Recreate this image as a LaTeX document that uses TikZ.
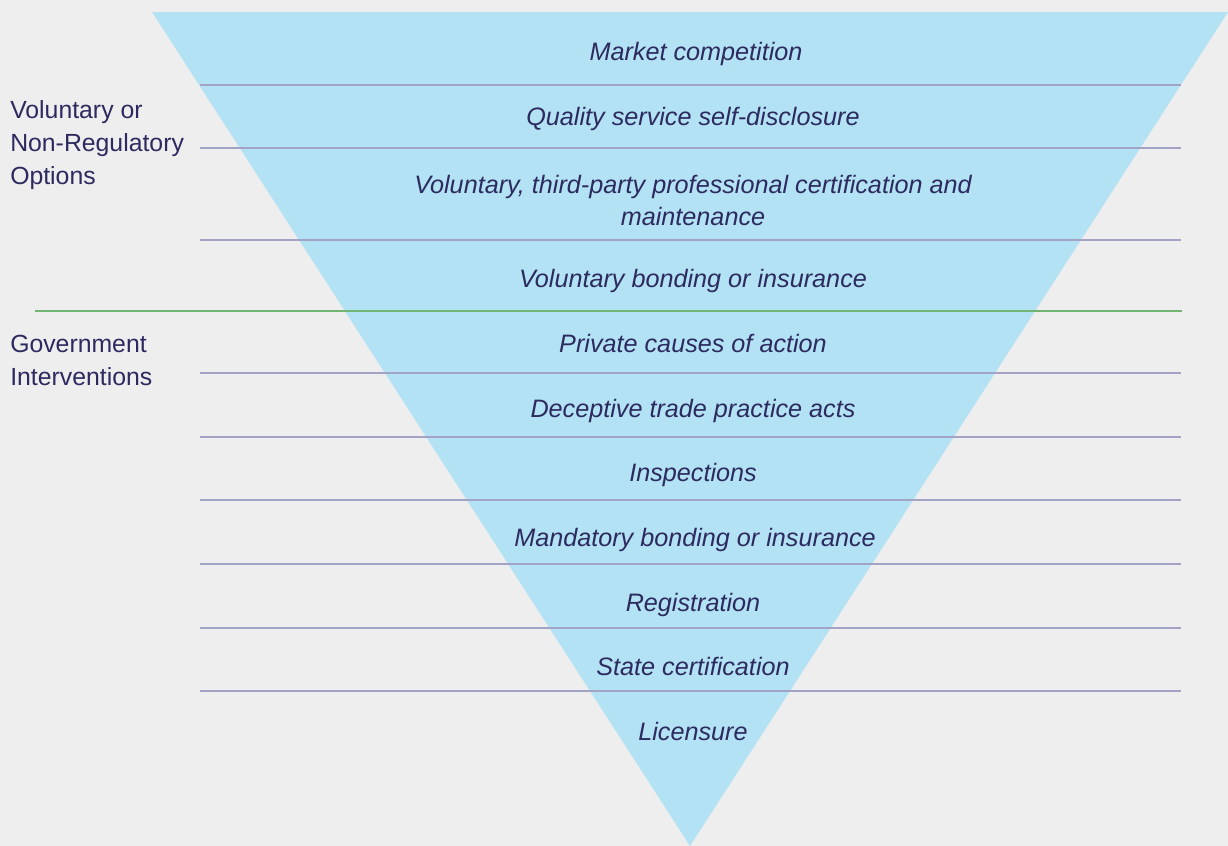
\documentclass[tikz,border=0pt]{standalone}
\usepackage{fontspec}
\setmainfont{Liberation Sans}
\definecolor{paper}{HTML}{EEEEEF}
\definecolor{funnel}{HTML}{B3E2F4}
\definecolor{ink}{HTML}{2C2A5F}
\definecolor{rule}{HTML}{A3A3C6}
\definecolor{divide}{HTML}{72B472}
\begin{document}
\begin{tikzpicture}[x=0.75pt,y=-0.75pt,
  item/.style={font=\itshape\fontsize{18.9}{24}\selectfont,text=ink,align=center,inner sep=0pt},
  group/.style={font=\fontsize{18.6}{24.75}\selectfont,text=ink,align=left,anchor=north west,inner sep=0pt},
  sep/.style={rule,line width=1.2pt}]
  \fill[paper] (0,0) rectangle (1228,846);
  \coordinate (L) at (152,12);
  \coordinate (R) at (1228,12);
  \coordinate (T) at (690,846);
  \fill[funnel] (L) -- (R) -- (T) -- cycle;  % funnel
  \foreach \y in {85,148,240,373,437,500,564,628,691}
    \draw[sep] (200,\y) -- (1181,\y);
  \coordinate (gl) at (35,311);
  \coordinate (gr) at (1182,311);
  \draw[divide,line width=1.5pt] (gl) -- (gr);
  % left labels
  \node[group] (vol) at (10,100) {Voluntary or\\Non-Regulatory\\Options};
  \node[group] (gov) at (10,335) {Government\\Interventions};
  % funnel items
  \node[item,anchor=base] (i1) at (696,60) {Market competition};
  \node[item,anchor=base] (i2) at (693,125) {Quality service self-disclosure};
  \node[item] (i3) at (693,200) {Voluntary, third-party professional certification and\\maintenance};
  \node[item,anchor=base] (i4) at (693,287) {Voluntary bonding or insurance};
  \node[item,anchor=base] (i5) at (693,352) {Private causes of action};
  \node[item,anchor=base] (i6) at (693,417) {Deceptive trade practice acts};
  \node[item,anchor=base] (i7) at (693,481) {Inspections};
  \node[item,anchor=base] (i8) at (695,546) {Mandatory bonding or insurance};
  \node[item,anchor=base] (i9) at (693,611) {Registration};
  \node[item,anchor=base] (i10) at (693,675) {State certification};
  \node[item,anchor=base] (i11) at (693,740) {Licensure};
\end{tikzpicture}
\end{document}
